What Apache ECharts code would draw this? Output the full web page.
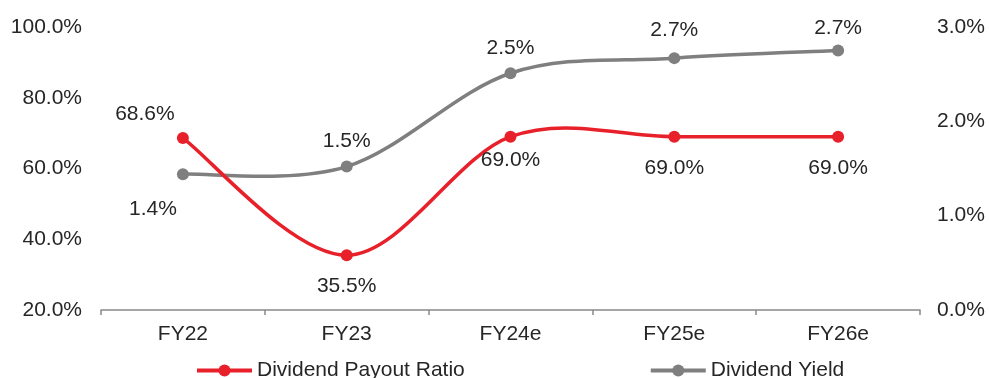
<!DOCTYPE html>
<html>
<head>
<meta charset="utf-8">
<script src="https://cdn.jsdelivr.net/npm/echarts@6/dist/echarts.min.js"></script>
<style>
  html, body { margin: 0; padding: 0; background: #fff; }
  #chart { width: 989px; height: 378px; }
</style>
</head>
<body>
<div id="chart"></div>
<script>
var categories = ['FY22', 'FY23', 'FY24e', 'FY25e', 'FY26e'];
var payoutRatio = [68.6, 35.5, 69.0, 69.0, 69.0];
var payoutLabels = ['68.6%', '35.5%', '69.0%', '69.0%', '69.0%'];
var dividendYield = [1.44, 1.52, 2.51, 2.67, 2.75];
var yieldLabels = ['1.4%', '1.5%', '2.5%', '2.7%', '2.7%'];

var RED = '#E8202A';
var GREY = '#7F7F80';
var TEXT = '#262626';
var FONT = 'Liberation Sans, Arial, sans-serif';

// label placement per point (top / bottom, distance, x shift)
var payoutPos = [['top', 7, -38], ['bottom', 15, 0], ['bottom', 7, 0], ['bottom', 15, 0], ['bottom', 15, 0]];
var yieldPos = [['bottom', 19, -30], ['top', 9, 0], ['top', 9, 0], ['top', 11, 0], ['top', 6, 0]];

function buildData(values, labels, pos) {
  return values.map(function (v, i) {
    return {
      value: v,
      label: {
        position: pos[i][0],
        distance: pos[i][1],
        offset: [pos[i][2], 0],
        formatter: labels[i]
      }
    };
  });
}

// spreadsheet style smoothing (catmull-rom -> bezier), points from the axis scales
function smoothCurve(values, color, width) {
  return function (params, api) {
    if (params.dataIndex !== 0) return;
    var pts = values.map(function (v, i) { return api.coord([i, v]); });
    var n = pts.length;
    var children = [];
    for (var i = 0; i < n - 1; i++) {
      var p0 = pts[Math.max(i - 1, 0)];
      var p1 = pts[i];
      var p2 = pts[i + 1];
      var p3 = pts[Math.min(i + 2, n - 1)];
      children.push({
        type: 'bezierCurve',
        shape: {
          x1: p1[0], y1: p1[1],
          cpx1: p1[0] + (p2[0] - p0[0]) / 6, cpy1: p1[1] + (p2[1] - p0[1]) / 6,
          cpx2: p2[0] - (p3[0] - p1[0]) / 6, cpy2: p2[1] - (p3[1] - p1[1]) / 6,
          x2: p2[0], y2: p2[1]
        },
        style: { stroke: color, lineWidth: width, fill: 'none', lineCap: 'round' }
      });
    }
    return { type: 'group', children: children };
  };
}

function pairs(values) {
  return values.map(function (v, i) { return [i, v]; });
}

var dom = document.getElementById('chart');
var myChart = echarts.init(dom);

var option = {
  animation: false,
  textStyle: { fontFamily: FONT },
  grid: { left: 101, right: 69, top: 27, bottom: 68 },
  legend: {
    left: 190,
    top: 355,
    itemWidth: 55,
    itemHeight: 15,
    itemGap: 184,
    textStyle: { fontSize: 21, color: TEXT, fontFamily: FONT },
    data: [
      { name: 'Dividend Payout Ratio', lineStyle: { color: RED, width: 4, opacity: 1 } },
      { name: 'Dividend Yield', lineStyle: { color: GREY, width: 4, opacity: 1 } }
    ]
  },
  xAxis: {
    type: 'category',
    data: categories,
    boundaryGap: true,
    axisLine: { lineStyle: { color: '#898989', width: 1.5 } },
    axisTick: { show: true, inside: false, length: 5, lineStyle: { color: '#898989', width: 1.5 } },
    axisLabel: { color: TEXT, fontSize: 21, margin: 14, fontFamily: FONT }
  },
  yAxis: [
    {
      type: 'value',
      min: 20,
      max: 100,
      interval: 20,
      axisLine: { show: false },
      axisTick: { show: false },
      splitLine: { show: false },
      axisLabel: {
        color: TEXT, fontSize: 21, margin: 19, fontFamily: FONT,
        formatter: function (v) { return v.toFixed(1) + '%'; }
      }
    },
    {
      type: 'value',
      min: 0,
      max: 3,
      interval: 1,
      axisLine: { show: false },
      axisTick: { show: false },
      splitLine: { show: false },
      axisLabel: {
        color: TEXT, fontSize: 21, margin: 17, fontFamily: FONT,
        formatter: function (v) { return v.toFixed(1) + '%'; }
      }
    }
  ],
  series: [
    {
      name: 'yieldCurve',
      type: 'custom',
      yAxisIndex: 1,
      silent: true,
      encode: { x: 0, y: 1 },
      renderItem: smoothCurve(dividendYield, GREY, 3.5),
      data: pairs(dividendYield),
      z: 1
    },
    {
      name: 'payoutCurve',
      type: 'custom',
      yAxisIndex: 0,
      silent: true,
      encode: { x: 0, y: 1 },
      renderItem: smoothCurve(payoutRatio, RED, 3.5),
      data: pairs(payoutRatio),
      z: 2
    },
    {
      name: 'Dividend Payout Ratio',
      type: 'line',
      yAxisIndex: 0,
      symbol: 'circle',
      symbolSize: 12,
      itemStyle: { color: RED },
      lineStyle: { color: RED, width: 4, opacity: 0 },
      label: { show: true, color: TEXT, fontSize: 21, fontFamily: FONT },
      data: buildData(payoutRatio, payoutLabels, payoutPos),
      z: 4
    },
    {
      name: 'Dividend Yield',
      type: 'line',
      yAxisIndex: 1,
      symbol: 'circle',
      symbolSize: 12,
      itemStyle: { color: GREY },
      lineStyle: { color: GREY, width: 4, opacity: 0 },
      label: { show: true, color: TEXT, fontSize: 21, fontFamily: FONT },
      data: buildData(dividendYield, yieldLabels, yieldPos),
      z: 3
    }
  ]
};

myChart.setOption(option);
</script>
</body>
</html>
